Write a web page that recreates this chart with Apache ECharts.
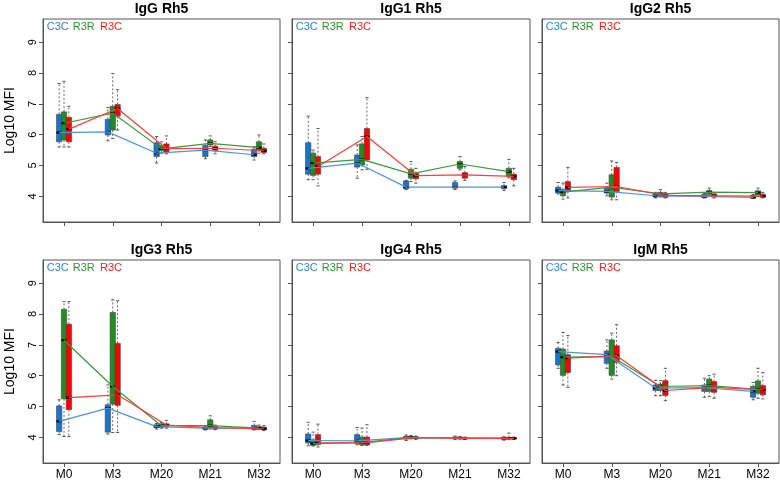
<!DOCTYPE html>
<html><head><meta charset="utf-8">
<script src="https://cdn.jsdelivr.net/npm/echarts@6/dist/echarts.min.js"></script>
<style>html,body{margin:0;padding:0;background:#fff}#c{width:780px;height:481px}</style>
</head><body><div id="c"></div>
<script>
// ---------------- data ----------------
const categories = ['M0', 'M3', 'M20', 'M21', 'M32'];
const groups = ['C3C', 'R3R', 'R3C'];
const panelTitles = ['IgG Rh5', 'IgG1 Rh5', 'IgG2 Rh5', 'IgG3 Rh5', 'IgG4 Rh5', 'IgM Rh5'];
const yTicks = [4, 5, 6, 7, 8, 9];
// each row: [min, q1, median, q3, max] for M0, M3, M20, M21, M32
const IgG_C3C = [[5.60,5.77,6.07,6.66,7.66],[5.80,5.99,6.09,6.50,6.88],[5.08,5.29,5.40,5.74,5.94],[5.22,5.29,5.50,5.65,5.83],[5.18,5.29,5.35,5.53,5.61]];
const IgG_R3R = [[5.60,5.83,6.37,6.74,7.73],[5.88,6.15,6.70,6.92,7.98],[5.40,5.48,5.54,5.65,5.77],[5.62,5.67,5.72,5.83,5.96],[5.40,5.50,5.58,5.77,5.99]];
const IgG_R3C = [[5.60,5.77,6.18,6.56,6.92],[6.15,6.60,6.85,6.98,7.46],[5.38,5.43,5.55,5.70,5.96],[5.38,5.48,5.56,5.63,5.77],[5.38,5.42,5.48,5.56,5.70]];

const IgG1_C3C = [[4.54,4.72,4.91,5.74,6.60],[4.59,4.95,5.08,5.34,5.67],[4.22,4.25,4.30,4.50,4.52],[4.22,4.27,4.30,4.45,4.50],[4.19,4.25,4.30,4.35,4.45]];
const IgG1_R3R = [[4.54,4.68,5.08,5.40,5.50],[4.86,5.02,5.20,5.70,5.94],[4.48,4.59,4.73,4.88,5.13],[4.86,4.91,5.05,5.13,5.29],[4.60,4.65,4.80,4.91,5.20]];
const IgG1_R3C = [[4.34,4.72,4.97,5.29,6.20],[4.88,5.18,5.94,6.20,7.20],[4.43,4.57,4.67,4.75,4.91],[4.52,4.59,4.70,4.77,4.97],[4.34,4.54,4.65,4.72,4.91]];

const IgG2_C3C = [[4.08,4.11,4.19,4.30,4.45],[4.02,4.11,4.16,4.27,4.43],[3.95,3.98,4.02,4.09,4.13],[3.95,3.96,4.00,4.07,4.10],[3.93,3.94,3.97,4.03,4.06]];
const IgG2_R3R = [[3.91,4.02,4.14,4.22,4.43],[3.89,3.98,4.30,4.70,5.15],[3.98,4.00,4.08,4.13,4.22],[4.05,4.08,4.14,4.19,4.27],[4.00,4.05,4.12,4.18,4.27]];
const IgG2_R3C = [[3.95,4.16,4.29,4.48,4.94],[3.89,4.16,4.32,4.94,5.10],[3.95,3.97,4.03,4.08,4.13],[3.95,3.98,4.02,4.08,4.12],[3.95,3.97,4.01,4.07,4.13]];

const IgG3_C3C = [[4.09,4.19,4.52,5.02,5.22],[4.11,4.17,4.95,5.06,5.70],[4.27,4.32,4.35,4.41,4.45],[4.24,4.26,4.30,4.33,4.37],[4.24,4.26,4.30,4.39,4.52]];
const IgG3_R3R = [[4.03,5.25,7.15,8.15,8.40],[4.16,5.08,5.65,8.05,8.46],[4.30,4.33,4.38,4.44,4.48],[4.27,4.32,4.38,4.57,4.70],[4.26,4.28,4.30,4.35,4.40]];
const IgG3_R3C = [[4.03,4.90,5.29,7.67,8.40],[4.16,5.04,5.38,7.05,8.43],[4.30,4.35,4.40,4.44,4.55],[4.25,4.27,4.31,4.35,4.40],[4.22,4.25,4.28,4.33,4.38]];

const IgG4_C3C = [[3.73,3.82,3.90,4.11,4.49],[3.76,3.80,3.89,4.09,4.32],[3.90,3.95,3.99,4.03,4.08],[3.93,3.96,3.98,4.01,4.04],[3.91,3.94,3.97,4.00,4.02]];
const IgG4_R3R = [[3.72,3.74,3.80,3.92,4.17],[3.74,3.76,3.83,4.01,4.30],[3.95,3.97,4.00,4.02,4.06],[3.94,3.96,3.98,4.01,4.03],[3.93,3.95,3.98,4.00,4.14]];
const IgG4_R3C = [[3.69,3.77,3.82,4.09,4.43],[3.74,3.76,3.83,4.01,4.41],[3.93,3.96,3.99,4.01,4.04],[3.93,3.95,3.97,3.99,4.01],[3.93,3.95,3.97,3.99,4.01]];

const IgM_C3C = [[6.24,6.35,6.78,6.89,7.08],[6.24,6.40,6.68,6.80,7.16],[5.35,5.52,5.60,5.70,5.85],[5.30,5.49,5.61,5.70,5.92],[5.22,5.30,5.49,5.65,5.78]];
const IgM_R3R = [[5.70,6.01,6.60,6.86,7.40],[5.89,6.01,6.62,7.16,7.38],[5.35,5.52,5.65,5.73,5.84],[5.33,5.49,5.68,5.89,6.00],[5.27,5.43,5.56,5.83,6.24]];
const IgM_R3C = [[5.62,6.10,6.57,6.68,7.30],[6.00,6.43,6.65,6.97,7.65],[5.19,5.36,5.52,5.84,6.24],[5.27,5.46,5.62,5.81,6.05],[5.25,5.38,5.54,5.68,6.10]];

// ---------------- style / layout ----------------
const panelData = [
  [IgG_C3C, IgG_R3R, IgG_R3C], [IgG1_C3C, IgG1_R3R, IgG1_R3C], [IgG2_C3C, IgG2_R3R, IgG2_R3C],
  [IgG3_C3C, IgG3_R3R, IgG3_R3C], [IgG4_C3C, IgG4_R3R, IgG4_R3C], [IgM_C3C, IgM_R3R, IgM_R3C]
];
const boxColors = ['#1874CD', '#228B22', '#FF0000'];
const lineColors = ['#4A94E0', '#3A9A3A', '#FF3B3B'];
const legendColors = ['#2A84DC', '#2A962A', '#FF1A1A'];
const legendDx = [3.7, 29.7, 57];
const offsets = [-0.1, 0, 0.1];
const boxW = 0.11;
const FONT = '"Liberation Sans", Arial, Helvetica, sans-serif';
const lefts = [43, 292, 542], widths = [237, 238, 237];
const tops = [19, 260], H = 203;

const grids = [], xAxes = [], yAxes = [], series = [], graphics = [];
for (let p = 0; p < 6; p++) {
  const col = p % 3, row = Math.floor(p / 3);
  grids.push({ left: lefts[col], top: tops[row], width: widths[col], height: H,
    show: true, borderColor: '#555', borderWidth: 1, backgroundColor: 'transparent', outerBoundsMode: 'none' });
  xAxes.push({ type: 'value', gridIndex: p, min: -0.431, max: 4.431,
    axisLine: { show: true, onZero: false, lineStyle: { color: '#555' } },
    axisTick: { show: true, length: 4, customValues: [0,1,2,3,4], lineStyle: { color: '#555' } },
    axisLabel: { show: row === 1, customValues: [0,1,2,3,4], margin: 6,
      formatter: v => categories[Math.round(v)], fontFamily: FONT, fontSize: 12, color: '#000' },
    splitLine: { show: false } });
  yAxes.push({ type: 'value', gridIndex: p, min: 3.17, max: 9.75,
    axisLine: { show: true, onZero: false, lineStyle: { color: '#555' } },
    axisTick: { show: true, length: 4, customValues: yTicks, lineStyle: { color: '#555' } },
    axisLabel: { show: col === 0, customValues: yTicks, rotate: 90, margin: 5,
      fontFamily: FONT, fontSize: 11, color: '#000' },
    splitLine: { show: false },
    name: col === 0 ? 'Log10 MFI' : '', nameLocation: 'middle', nameGap: 26, nameRotate: 90,
    nameTextStyle: { fontFamily: FONT, fontSize: 14, color: '#000' } });

  graphics.push({ type: 'text', x: lefts[col] + widths[col] / 2, y: tops[row] - 9.5,
    style: { text: panelTitles[p], font: 'bold 14px ' + FONT, fill: '#000',
      align: 'center', verticalAlign: 'middle' } });
  for (let g = 0; g < 3; g++) {
    graphics.push({ type: 'text', x: lefts[col] + legendDx[g], y: tops[row] + 7.5,
      style: { text: groups[g], font: '11px ' + FONT, fill: legendColors[g], align: 'left', verticalAlign: 'middle' } });
  }

  for (let g = 0; g < 3; g++) {
    const arr = panelData[p][g];
    const off = offsets[g], color = boxColors[g];
    series.push({
      type: 'custom', xAxisIndex: p, yAxisIndex: p, z: 2,
      encode: { x: 0, y: [1, 2, 3, 4, 5] },
      data: arr.map((d, i) => [i].concat(d)),
      renderItem: (params, api) => {
        const xi = api.value(0) + off;
        const pMin = api.coord([xi, api.value(1)]);
        const pQ1 = api.coord([xi, api.value(2)]);
        const pMd = api.coord([xi, api.value(3)]);
        const pQ3 = api.coord([xi, api.value(4)]);
        const pMax = api.coord([xi, api.value(5)]);
        const cx = pMd[0];
        const hw = api.size([boxW, 0])[0] / 2;
        const cap = 1.6;
        const wl = { stroke: '#444', lineWidth: 0.8, lineDash: [2, 2] };
        const cl = { stroke: '#333', lineWidth: 0.8 };
        return { type: 'group', children: [
          { type: 'line', shape: { x1: cx, y1: pQ3[1], x2: cx, y2: pMax[1] }, style: wl },
          { type: 'line', shape: { x1: cx, y1: pQ1[1], x2: cx, y2: pMin[1] }, style: wl },
          { type: 'line', shape: { x1: cx - cap, y1: pMax[1], x2: cx + cap, y2: pMax[1] }, style: cl },
          { type: 'line', shape: { x1: cx - cap, y1: pMin[1], x2: cx + cap, y2: pMin[1] }, style: cl },
          { type: 'rect', shape: { x: cx - hw, y: pQ3[1], width: 2 * hw, height: Math.max(pQ1[1] - pQ3[1], 1) },
            style: { fill: color, stroke: '#444', lineWidth: 0.6 } },
          { type: 'line', shape: { x1: cx - hw, y1: pMd[1], x2: cx + hw, y2: pMd[1] }, style: { stroke: '#000', lineWidth: 2 } }
        ] };
      }
    });
    series.push({
      type: 'line', xAxisIndex: p, yAxisIndex: p, z: 3, symbol: 'none', silent: true,
      lineStyle: { color: lineColors[g], width: 1.2 },
      data: arr.map((d, i) => [i + off, d[2]])
    });
  }
}

const chart = echarts.init(document.getElementById('c'), null, { renderer: 'canvas' });
chart.setOption({
  animation: false, backgroundColor: '#fff',
  grid: grids, xAxis: xAxes, yAxis: yAxes, series: series, graphic: graphics
});
</script></body></html>
